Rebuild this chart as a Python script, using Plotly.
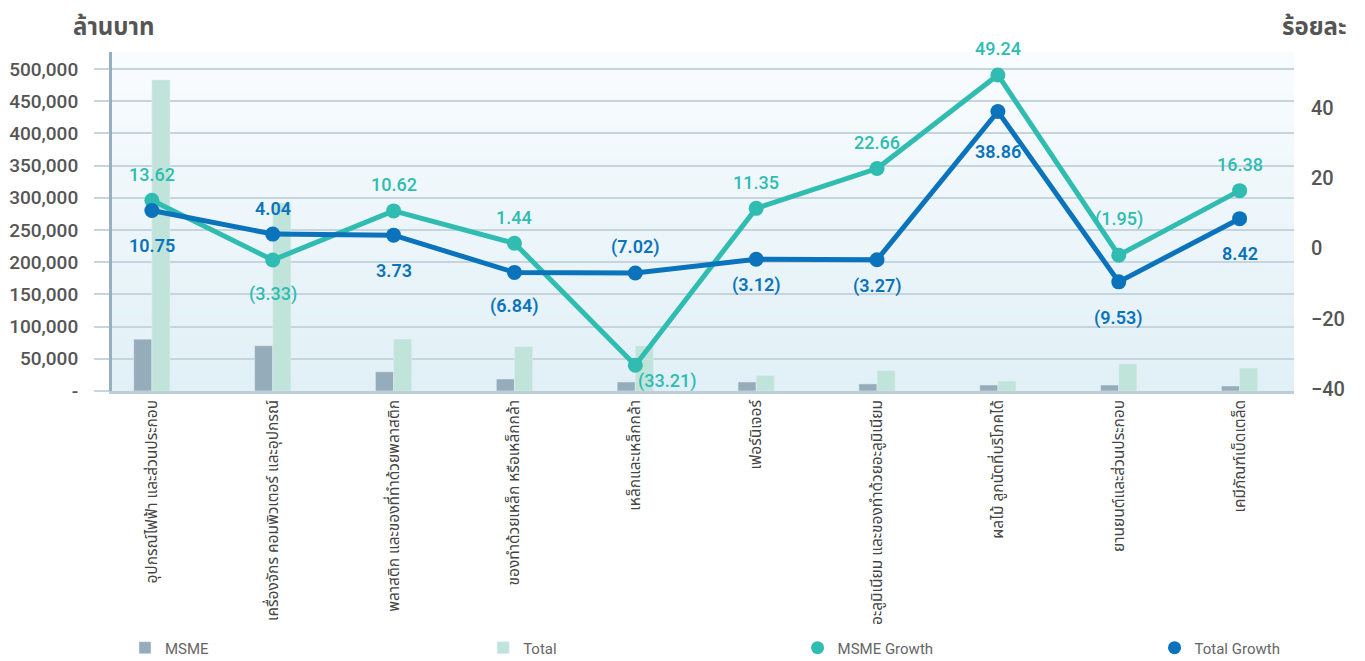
import base64
import struct
import zlib

import plotly.graph_objects as go

# ---------------- data ----------------
categories = [
    "อุปกรณ์ไฟฟ้า และส่วนประกอบ",
    "เครื่องจักร คอมพิวเตอร์ และอุปกรณ์",
    "พลาสติก และของที่ทำด้วยพลาสติก",
    "ของทำด้วยเหล็ก หรือเหล็กกล้า",
    "เหล็กและเหล็กกล้า",
    "เฟอร์นิเจอร์",
    "อะลูมิเนียม และของทำด้วยอะลูมิเนียม",
    "ผลไม้ ลูกนัตที่บริโภคได้",
    "ยานยนต์และส่วนประกอบ",
    "เคมีภัณฑ์เบ็ดเตล็ด",
]
msme_value = [80500, 70300, 29800, 18600, 14000, 14000, 11000, 9300, 9300, 7800]
total_value = [483000, 292000, 80700, 68800, 70000, 24000, 31500, 15500, 42000, 35700]
msme_growth = [13.62, -3.33, 10.62, 1.44, -33.21, 11.35, 22.66, 49.24, -1.95, 16.38]
total_growth = [10.75, 4.04, 3.73, -6.84, -7.02, -3.12, -3.27, 38.86, -9.53, 8.42]

left_ticks = [0, 50000, 100000, 150000, 200000, 250000, 300000, 350000, 400000, 450000, 500000]
right_ticks = [-40, -20, 0, 20, 40]

# label offsets (pixels, positive = downwards) for the growth labels
msme_label_dy = [-26, 34, -26, -26, 16, -26, -26, -26, -36, -26]
msme_label_dx = [0, 0, 0, 0, 32, 0, 0, 0, 0, 0]
total_label_dy = [35, -26, 35, 34, -26, 26, 26, 40, 36, 35]

# ---------------- styles ----------------
C_MSME = "#95adbb"
C_TOTAL = "#c0e4da"
C_MG = "#30bcb0"
C_TG = "#0b73bb"
GRID = "#c5d4dd"
TXT = "#555555"
NUM_FONT = "Roboto, DejaVu Sans, sans-serif"
THAI_FONT = "Noto Sans Thai, Noto Sans, Loma, Garuda, sans-serif"


def fmt(v):
    return f"({abs(v):.2f})" if v < 0 else f"{v:.2f}"


def gradient_png(top, bottom, n=64):
    rows = []
    for i in range(n):
        t = i / (n - 1)
        c = [round(top[k] + (bottom[k] - top[k]) * t) for k in range(3)]
        rows.append(b"\x00" + bytes(c * 2))
    raw = b"".join(rows)

    def chunk(tag, data):
        return (struct.pack(">I", len(data)) + tag + data
                + struct.pack(">I", zlib.crc32(tag + data) & 0xFFFFFFFF))

    png = (b"\x89PNG\r\n\x1a\n"
           + chunk(b"IHDR", struct.pack(">IIBBBBB", 2, n, 8, 2, 0, 0, 0))
           + chunk(b"IDAT", zlib.compress(raw))
           + chunk(b"IEND", b""))
    return "data:image/png;base64," + base64.b64encode(png).decode()


xs = list(range(len(categories)))

fig = go.Figure()

fig.add_trace(go.Bar(x=xs, y=msme_value, name="MSME", marker_color=C_MSME,
                     yaxis="y", legend="legend", hoverinfo="y"))
fig.add_trace(go.Bar(x=xs, y=total_value, name="Total", marker_color=C_TOTAL,
                     yaxis="y", legend="legend2", hoverinfo="y"))

fig.add_trace(go.Scatter(x=xs, y=msme_growth, name="MSME Growth", mode="lines+markers",
                         line=dict(color=C_MG, width=5), marker=dict(size=15, color=C_MG),
                         yaxis="y2", showlegend=False))
fig.add_trace(go.Scatter(x=xs, y=total_growth, name="Total Growth", mode="lines+markers",
                         line=dict(color=C_TG, width=5), marker=dict(size=15, color=C_TG),
                         yaxis="y2", showlegend=False))

# legend-only entries (circle symbol only)
fig.add_trace(go.Scatter(x=[None], y=[None], name="MSME Growth", mode="markers",
                         marker=dict(size=13, color=C_MG), yaxis="y2", legend="legend3"))
fig.add_trace(go.Scatter(x=[None], y=[None], name="Total Growth", mode="markers",
                         marker=dict(size=13, color=C_TG), yaxis="y2", legend="legend4"))

annotations = []
for i, v in enumerate(msme_growth):
    annotations.append(dict(x=xs[i], y=v, xref="x", yref="y2", text=fmt(v), showarrow=False,
                            xshift=msme_label_dx[i], yshift=-msme_label_dy[i],
                            font=dict(family=NUM_FONT, size=18, color=C_MG, weight=500)))
for i, v in enumerate(total_growth):
    annotations.append(dict(x=xs[i], y=v, xref="x", yref="y2", text=fmt(v), showarrow=False,
                            yshift=-total_label_dy[i],
                            font=dict(family=NUM_FONT, size=18, color=C_TG, weight=600)))

annotations.append(dict(text="ล้านบาท", xref="paper", yref="paper", x=0.001, y=1.072,
                        xanchor="center", yanchor="middle", showarrow=False,
                        font=dict(family=THAI_FONT, size=24, color=TXT, weight=700)))
annotations.append(dict(text="ร้อยละ", xref="paper", yref="paper", x=1.017, y=1.072,
                        xanchor="center", yanchor="middle", showarrow=False,
                        font=dict(family=THAI_FONT, size=24, color=TXT, weight=700)))

left_text = ["-" if t == 0 else f"{t:,}" for t in left_ticks]

legend_common = dict(orientation="h", yanchor="middle", xanchor="left", y=-0.758,
                     bgcolor="rgba(0,0,0,0)",
                     font=dict(family=NUM_FONT, size=15, color="#666666"))

# the page body adds an 8px margin, so the figure is offset by 8px
fig.update_layout(
    width=1357, height=653,
    margin=dict(l=104, r=71, t=44, b=270, autoexpand=False),
    paper_bgcolor="white",
    plot_bgcolor="rgba(0,0,0,0)",
    barmode="group", bargap=0.70, bargroupgap=0,
    font=dict(family=NUM_FONT, color=TXT),
    images=[dict(source=gradient_png((249, 252, 254), (225, 240, 247)),
                 xref="paper", yref="paper", x=0, y=1, sizex=1, sizey=1,
                 sizing="stretch", layer="below", xanchor="left", yanchor="top")],
    xaxis=dict(tickvals=xs, ticktext=categories, tickangle=-90, range=[-0.33, 9.45],
               showgrid=False, zeroline=False, showline=True, linecolor="#bccfd9",
               linewidth=2.5, ticks="", automargin=False,
               tickfont=dict(family=THAI_FONT, size=15.5, color="#444444")),
    yaxis=dict(range=[0, 526400], tickvals=left_ticks, ticktext=left_text,
               showgrid=True, gridcolor=GRID, gridwidth=2, zeroline=False,
               showline=True, linecolor="#97afbe", linewidth=3,
               ticks="outside", ticklen=15, tickcolor=GRID, tickwidth=2,
               ticklabelstandoff=12, automargin=False,
               tickfont=dict(family=NUM_FONT, size=19, color=TXT, weight=500)),
    yaxis2=dict(range=[-40.54, 55.77], tickvals=right_ticks, overlaying="y", side="right",
                showgrid=False, zeroline=False, showline=False, ticks="",
                ticklabelstandoff=16, automargin=False,
                tickfont=dict(family=NUM_FONT, size=20, color=TXT, weight=500)),
    legend=dict(x=0.011, **legend_common),
    legend2=dict(x=0.314, **legend_common),
    legend3=dict(x=0.580, **legend_common),
    legend4=dict(x=0.882, **legend_common),
    annotations=annotations,
    showlegend=True,
)

fig.write_html("out.html")
